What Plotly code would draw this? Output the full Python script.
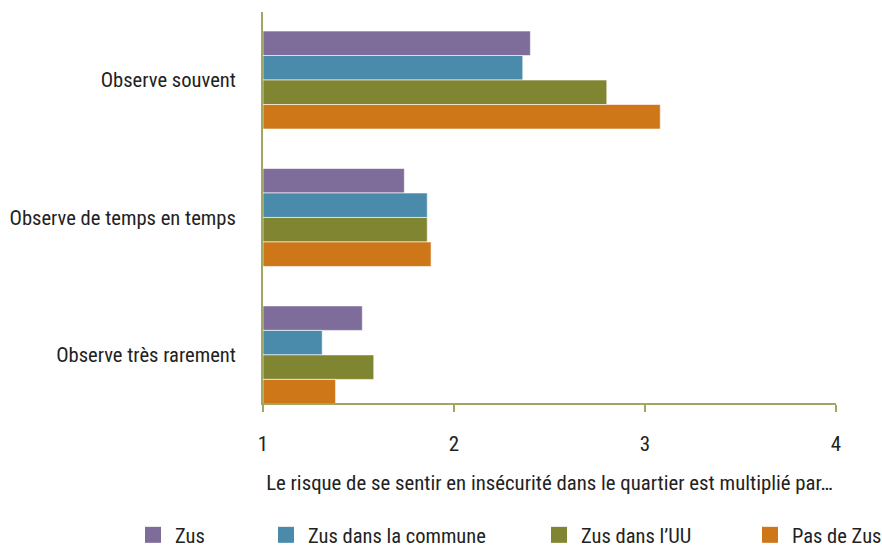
import plotly.graph_objects as go

categories = ["Observe souvent", "Observe de temps en temps", "Observe très rarement"]
series_names = ["Zus", "Zus dans la commune", "Zus dans l\u2019UU", "Pas de Zus"]
zus = [2.40, 1.74, 1.52]
zus_commune = [2.36, 1.86, 1.31]
zus_uu = [2.80, 1.86, 1.58]
pas_de_zus = [3.08, 1.88, 1.38]
x_ticks = [1, 2, 3, 4]
x_title = "Le risque de se sentir en insécurité dans le quartier est multiplié par\u2026"

colors = ["#7E6D9A", "#4A8AAA", "#7F8530", "#CE7718"]
FONT = "Roboto Condensed, Archivo Narrow, DejaVu Sans Condensed, sans-serif"
TXT = "#222222"
axis_color = "#A3A65E"

fig = go.Figure()
values = [zus, zus_commune, zus_uu, pas_de_zus]
for name, vals, col in zip(series_names, values, colors):
    fig.add_trace(go.Bar(
        y=categories, x=[v - 1 for v in vals], base=1, orientation="h",
        name=name, marker=dict(color=col, line=dict(width=1, color="rgba(255,255,255,0.6)")),
        showlegend=False,
    ))

legend_x = [145, 278, 551, 762]
for i, (name, col) in enumerate(zip(series_names, colors)):
    lg = "legend" if i == 0 else f"legend{i+1}"
    fig.add_trace(go.Scatter(
        x=[None], y=[None], mode="markers", name=name,
        marker=dict(symbol="square", size=18, color=col),
        legend=lg, showlegend=True,
    ))

W, H = 882, 547
legend_common = dict(orientation="h", font=dict(family=FONT, size=20.5, color=TXT),
                     bgcolor="rgba(0,0,0,0)", xanchor="left", yanchor="middle",
                     xref="container", yref="container", itemwidth=34,
                     borderwidth=0, itemsizing="trace")
layout_legends = {}
for i, lx in enumerate(legend_x):
    key = "legend" if i == 0 else f"legend{i+1}"
    layout_legends[key] = dict(legend_common, x=(lx - 14) / W, y=1 - 535 / H)

fig.update_layout(
    width=W, height=H,
    margin=dict(l=263, r=46, t=12, b=144),
    paper_bgcolor="white", plot_bgcolor="white",
    barmode="group", bargap=0.287, bargroupgap=0,
    font=dict(family=FONT, size=20, color=TXT),
    xaxis=dict(range=[1, 4], tickvals=x_ticks, showgrid=False, zeroline=False,
               showline=True, linecolor=axis_color, linewidth=2,
               ticks="outside", ticklen=7, tickwidth=2, tickcolor=axis_color,
               tickfont=dict(family=FONT, size=21, color=TXT),
               ticklabelstandoff=14, automargin=False,
               title=dict(text=x_title, standoff=20, font=dict(family=FONT, size=20.8, color=TXT))),
    yaxis=dict(categoryorder="array", categoryarray=categories,
               range=[2.35, -0.495], showgrid=False, zeroline=False,
               showline=True, linecolor=axis_color, linewidth=2, ticks="",
               ticklabelstandoff=21, automargin=False,
               tickfont=dict(family=FONT, size=20.6, color=TXT)),
    **layout_legends,
)

fig.write_html("out.html", config={"displayModeBar": False},
               post_script="document.body.style.margin='0';")
